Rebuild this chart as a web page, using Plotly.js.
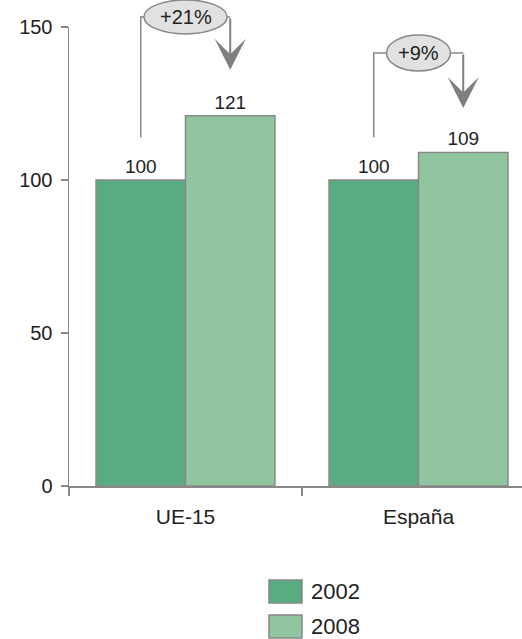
<!DOCTYPE html>
<html><head><meta charset="utf-8">
<script src="https://cdn.plot.ly/plotly-3.0.1.min.js"></script>
<style>html,body{margin:0;padding:0;background:#fff;}#chart{width:522px;height:639px;}</style>
</head><body><div id="chart"></div>
<script>
// ---- data ----
const categories = ["UE-15", "España"];
const seriesNames = ["2002", "2008"];
const values2002 = [100, 100];
const values2008 = [121, 109];
const changeLabels = ["+21%", "+9%"];

// ---- layout geometry ----
const W = 522, H = 639;
const M = {l: 69, r: 0, t: 27, b: 153};
const PW = W - M.l - M.r, PH = H - M.t - M.b;
const XR = [-0.5, -0.5 + PW / 233];
const YR = [0, 150];
const BARGAP = 0.232;
const HALF = (1 - BARGAP) / 4;
const pxPerY = PH / (YR[1] - YR[0]);
const xp = c => (c - XR[0]) / (XR[1] - XR[0]);
const yp = v => (v - YR[0]) / (YR[1] - YR[0]);
const dxp = px => px / PW;
const dyp = px => px / PH;
const pxX = px => (px - M.l) / PW;
const pxY = py => (H - M.b - py) / PH;

const GRAY = '#888888';
const TXT = '#222222';
const FONT = '"Liberation Sans", Arial, sans-serif';
const COLORS = ['#59ab81', '#90c5a0'];

const traces = [values2002, values2008].map((vals, k) => ({
  type: 'bar',
  x: categories,
  y: vals,
  name: seriesNames[k],
  marker: {color: COLORS[k], line: {color: GRAY, width: 1.5}},
  text: vals.map(String),
  textposition: 'outside',
  textfont: {size: 19, color: TXT, family: FONT},
  cliponaxis: false,
  showlegend: false,
  hoverinfo: 'skip'
}));

// bracket/arrow placement (in value units above the axis) and bubble sizes (px)
const brackets = [
  {bottom: 114, corner: 153.3, tip: 136, rx: 41.5, ry: 17},
  {bottom: 114, corner: 141.5, tip: 123.5, rx: 32, ry: 18}
];

const shapes = [];
const annotations = [];
brackets.forEach((b, i) => {
  const xL = xp(i - HALF), xR = xp(i + HALF), xc = xp(i);
  const eL = xc - dxp(b.rx), eR = xc + dxp(b.rx);
  const yB = yp(b.bottom), yC = yp(b.corner);
  shapes.push({type: 'path', xref: 'paper', yref: 'paper',
    path: `M${xL},${yB} V${yC} H${eL} M${eR},${yC} H${xR}`,
    line: {color: GRAY, width: 1.5}});
  shapes.push({type: 'circle', xref: 'paper', yref: 'paper',
    x0: eL, x1: eR, y0: yC - dyp(b.ry), y1: yC + dyp(b.ry),
    fillcolor: '#e1e1e1', line: {color: GRAY, width: 1.5}});
  annotations.push({xref: 'paper', yref: 'paper', x: xc, y: yC,
    text: changeLabels[i], showarrow: false, xanchor: 'center', yanchor: 'middle',
    font: {size: 20, color: TXT, family: FONT}});
  annotations.push({xref: 'paper', yref: 'paper', x: xR, y: yp(b.tip),
    text: '', showarrow: true, axref: 'pixel', ayref: 'pixel',
    ax: 0, ay: -(b.corner - b.tip) * pxPerY,
    arrowhead: 3, arrowsize: 2.6, arrowwidth: 2, arrowcolor: '#7f7f7f', standoff: 0});
});

// custom legend
const legendRows = [580, 615];
seriesNames.forEach((name, k) => {
  const top = legendRows[k];
  shapes.push({type: 'rect', xref: 'paper', yref: 'paper',
    x0: pxX(269), x1: pxX(302), y0: pxY(top + 23), y1: pxY(top),
    fillcolor: COLORS[k], line: {color: GRAY, width: 1.5}});
  annotations.push({xref: 'paper', yref: 'paper', x: pxX(309), y: pxY(top + 11.5),
    text: name, showarrow: false, xanchor: 'left', yanchor: 'middle',
    font: {size: 22, color: TXT, family: FONT}});
});

const layout = {
  width: W, height: H,
  margin: M,
  paper_bgcolor: '#fff', plot_bgcolor: '#fff',
  font: {family: FONT, color: TXT},
  barmode: 'group', bargap: BARGAP, bargroupgap: 0,
  showlegend: false,
  xaxis: {
    type: 'category', range: XR, tickson: 'boundaries',
    ticks: 'outside', ticklen: 8, tickwidth: 1.5, tickcolor: GRAY,
    showline: true, linecolor: GRAY, linewidth: 1.5,
    showgrid: false, zeroline: false,
    tickfont: {size: 21, color: TXT, family: FONT},
    ticklabelstandoff: 11, fixedrange: true
  },
  yaxis: {
    range: YR, tickvals: [0, 50, 100, 150],
    ticks: 'outside', ticklen: 7, tickwidth: 1.5, tickcolor: GRAY,
    showline: true, linecolor: GRAY, linewidth: 1.5,
    showgrid: false, zeroline: false,
    tickfont: {size: 20, color: TXT, family: FONT},
    ticklabelstandoff: 4, fixedrange: true
  },
  shapes: shapes,
  annotations: annotations
};

Plotly.newPlot('chart', traces, layout, {displayModeBar: false, staticPlot: true});
</script>
</body></html>
